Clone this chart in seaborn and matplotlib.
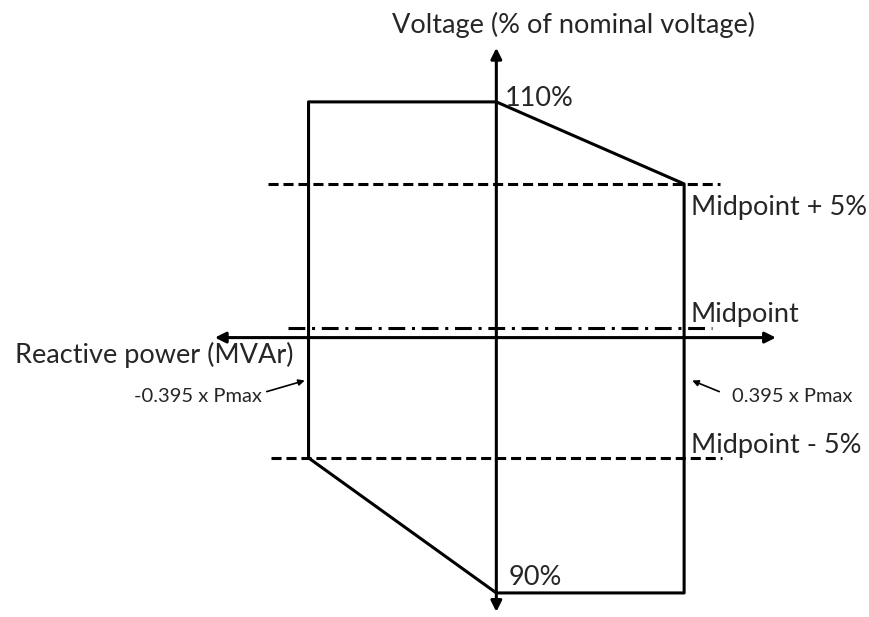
import matplotlib
matplotlib.use("Agg")
import matplotlib.pyplot as plt
import seaborn as sns
import pandas as pd

sns.set_theme(style="white")
plt.rcParams['font.family'] = ['Lato', 'DejaVu Sans']

# reactive power limit (x Pmax) and voltage levels (% of nominal)
q_limit = 0.395
v_top = 110
v_bottom = 90
v_upper = 106.66   # midpoint + 5%
v_mid = 100.8      # midpoint
v_lower = 95.5     # midpoint - 5%
v_axis = 100.4     # where the reactive power axis sits

# capability outline
outline_q = [-q_limit, -q_limit, 0, q_limit, q_limit, 0, -q_limit]
outline_v = [v_lower, v_top, v_top, v_upper, v_bottom, v_bottom, v_lower]

# reference line extents
upper_span = [-0.481, 0.471]
mid_span = [-0.439, 0.454]
lower_span = [-0.473, 0.475]

fig = plt.figure(figsize=(8.7, 6.17), dpi=100)
ax = fig.add_axes([0, 0, 1, 1])
ax.set_xlim(-1.044, 0.786)
ax.set_ylim(89.02, 114.15)
ax.axis('off')

lw = 2.2
outline = pd.DataFrame({'q': outline_q, 'v': outline_v})
sns.lineplot(data=outline, x='q', y='v', sort=False, estimator=None,
             color='black', lw=lw, ax=ax)

sns.lineplot(x=upper_span, y=[v_upper, v_upper], color='black', lw=lw,
             ax=ax).lines[-1].set_dashes((3.3, 1.6))
sns.lineplot(x=lower_span, y=[v_lower, v_lower], color='black', lw=lw,
             ax=ax).lines[-1].set_dashes((3.3, 1.6))
sns.lineplot(x=mid_span, y=[v_mid, v_mid], color='black', lw=lw,
             ax=ax).lines[-1].set_dashes((5.5, 2.2, 1.0, 2.2))

# axes with arrow heads
arrow = dict(arrowstyle='-|>', color='black', lw=2.2, mutation_scale=16,
             shrinkA=0, shrinkB=0)
ax.annotate('', xy=(0.588, v_axis), xytext=(0, v_axis), arrowprops=arrow)
ax.annotate('', xy=(-0.592, v_axis), xytext=(0, v_axis), arrowprops=arrow)
ax.annotate('', xy=(0, 112.2), xytext=(0, v_axis), arrowprops=arrow)
ax.annotate('', xy=(0, 89.23), xytext=(0, v_axis), arrowprops=arrow)

big = 19.5
ax.text(0.162, 112.81, 'Voltage (% of nominal voltage)', fontsize=big,
        ha='center', va='baseline')
ax.text(-1.012, 99.37, 'Reactive power (MVAr)', fontsize=big, ha='left', va='baseline')
ax.text(0.017, 109.84, '110%', fontsize=big, ha='left', va='baseline')
ax.text(0.025, 90.33, '90%', fontsize=big, ha='left', va='baseline')
ax.text(0.409, 105.40, 'Midpoint + 5%', fontsize=big, ha='left', va='baseline')
ax.text(0.409, 101.04, 'Midpoint', fontsize=big, ha='left', va='baseline')
ax.text(0.409, 95.70, 'Midpoint - 5%', fontsize=big, ha='left', va='baseline')

small = 14.5
ax.text(-0.762, 97.78, '-0.395 x Pmax', fontsize=small, ha='left', va='baseline')
ax.text(0.496, 97.78, '0.395 x Pmax', fontsize=small, ha='left', va='baseline')
thin = dict(arrowstyle='-|>', color='black', lw=1.2, mutation_scale=9,
            shrinkA=0, shrinkB=0)
ax.annotate('', xy=(-0.403, 98.65), xytext=(-0.483, 98.2), arrowprops=thin)
ax.annotate('', xy=(0.412, 98.65), xytext=(0.469, 98.2), arrowprops=thin)

fig.savefig('out.png', dpi=100)
